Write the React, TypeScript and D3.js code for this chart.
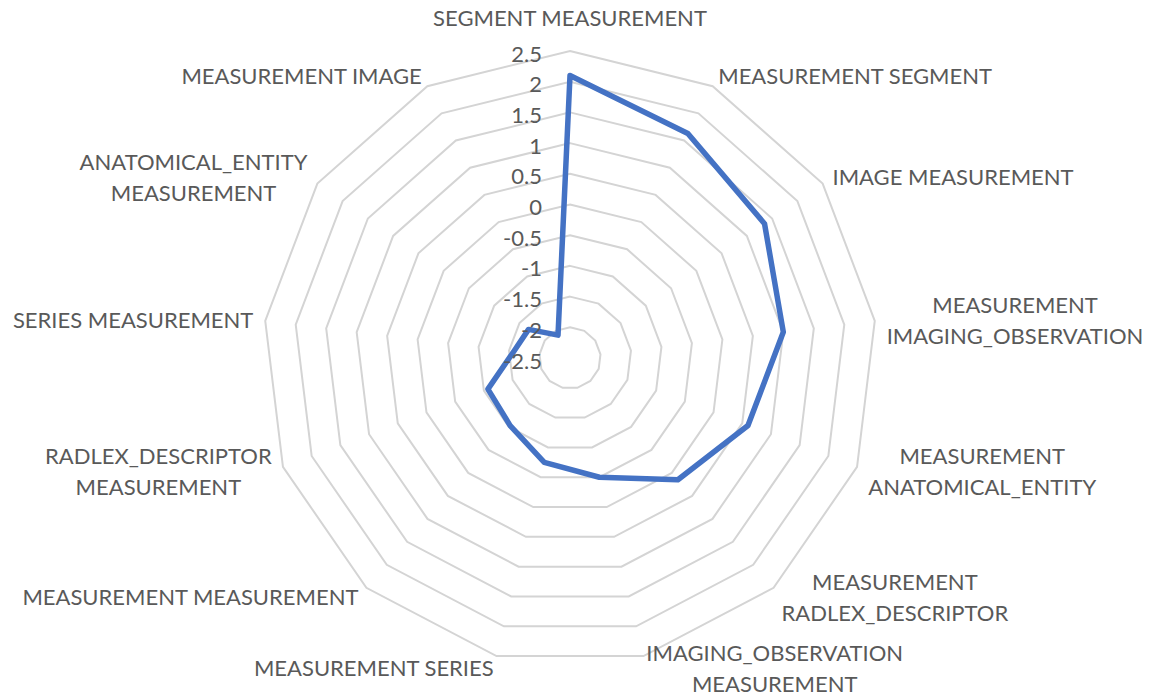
import { useEffect, useRef } from 'react'
import * as d3 from 'd3'

// axis categories, clockwise from the top
const categories: string[][] = [
  ['SEGMENT MEASUREMENT'],
  ['MEASUREMENT SEGMENT'],
  ['IMAGE MEASUREMENT'],
  ['MEASUREMENT', 'IMAGING_OBSERVATION'],
  ['MEASUREMENT', 'ANATOMICAL_ENTITY'],
  ['MEASUREMENT', 'RADLEX_DESCRIPTOR'],
  ['IMAGING_OBSERVATION', 'MEASUREMENT'],
  ['MEASUREMENT SERIES'],
  ['MEASUREMENT MEASUREMENT'],
  ['RADLEX_DESCRIPTOR', 'MEASUREMENT'],
  ['SERIES MEASUREMENT'],
  ['ANATOMICAL_ENTITY', 'MEASUREMENT'],
  ['MEASUREMENT IMAGE'],
]

const values: number[] = [2.1, 1.63, 1.35, 1.0, 0.6, 0.15, -0.5, -0.75, -1.03, -1.07, -1.58, -1.68, -2.08]

const tickValues: number[] = [-2.5, -2, -1.5, -1, -0.5, 0, 0.5, 1, 1.5, 2, 2.5]

const W = 1151
const H = 697

export default function App() {
  const ref = useRef<SVGSVGElement>(null)

  useEffect(() => {
    if (!ref.current) return
    const svg = d3.select(ref.current)
    svg.selectAll('*').remove()

    const cx = 570
    const cy = 358
    const R = 307
    const n = categories.length
    const font = 'Lato, "Open Sans", sans-serif'
    const fontSize = '22px'
    const textColor = '#595959'

    const r = d3.scaleLinear().domain([-2.5, 2.5]).range([0, R])
    const angle = (i: number) => (i * 2 * Math.PI) / n

    const g = svg.append('g').attr('transform', `translate(${cx},${cy})`)

    // Rings (skip the centre level)
    const ring = d3
      .lineRadial<number>()
      .angle((_, i) => angle(i))
      .radius((d) => r(d))
      .curve(d3.curveLinearClosed)

    g.selectAll('path.ring')
      .data(tickValues.filter((t) => t > -2.5))
      .enter()
      .append('path')
      .attr('class', 'ring')
      .attr('d', (t) => ring(d3.range(n).map(() => t)))
      .attr('fill', 'none')
      .attr('stroke', '#d4d4d4')
      .attr('stroke-width', 2)

    // Data series
    const line = d3
      .lineRadial<number>()
      .angle((_, i) => angle(i))
      .radius((d) => r(d))
      .curve(d3.curveLinearClosed)

    g.append('path')
      .attr('d', line(values))
      .attr('fill', 'none')
      .attr('stroke', '#4472c4')
      .attr('stroke-width', 5.5)
      .attr('stroke-linejoin', 'round')

    // Value axis labels
    g.selectAll('text.tick')
      .data(tickValues)
      .enter()
      .append('text')
      .attr('class', 'tick')
      .attr('x', -28)
      .attr('y', (t) => -r(t) + 5)
      .attr('dominant-baseline', 'middle')
      .attr('text-anchor', 'end')
      .style('font-family', font)
      .style('font-size', fontSize)
      .attr('fill', textColor)
      .text((t) => `${t}`)

    // Category labels
    const lineH = 31
    categories.forEach((lines, i) => {
      const a = angle(i)
      const s = Math.sin(a)
      const c = Math.cos(a)
      const ox = (R + 12) * s
      const oy = -(R + 12) * c
      const block = g.append('text').style('font-family', font).style('font-size', fontSize).attr('fill', textColor)
      const spans = lines.map((l) => block.append('tspan').text(l))
      const widths = spans.map((sp) => (sp.node() as SVGTSpanElement).getComputedTextLength())
      const bw = d3.max(widths) ?? 0
      let left: number
      if (Math.abs(s) < 0.05) left = ox - bw / 2
      else if (s > 0) left = ox
      else left = ox - bw
      let centerY = oy
      if (Math.abs(s) < 0.05) centerY = oy - 22
      const top = centerY - (lines.length * lineH) / 2
      spans.forEach((sp, k) => {
        sp.attr('x', left + bw / 2)
          .attr('y', top + lineH * k + lineH / 2)
          .attr('text-anchor', 'middle')
          .attr('dominant-baseline', 'central')
      })
    })
  }, [])

  return (
    <svg
      ref={ref}
      width={W}
      height={H}
      style={{ position: 'absolute', left: 0, top: 0, background: '#fff' }}
    />
  )
}
